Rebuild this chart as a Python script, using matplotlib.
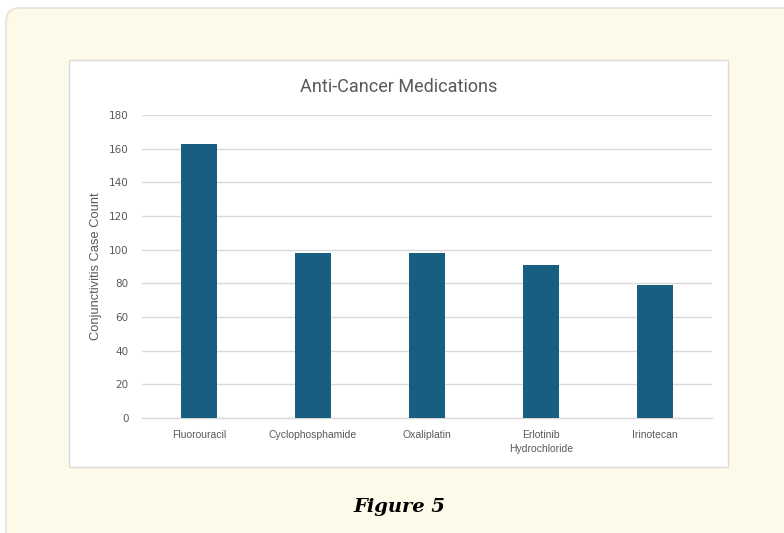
import matplotlib.pyplot as plt
from matplotlib.patches import FancyBboxPatch, Rectangle
from matplotlib.transforms import IdentityTransform

# case counts per drug
drugs = ['Fluorouracil', 'Cyclophosphamide', 'Oxaliplatin',
         'Erlotinib\nHydrochloride', 'Irinotecan']
cases = [163, 98, 98, 91, 79]
yticks = [0, 20, 40, 60, 80, 100, 120, 140, 160, 180]

W, H = 784, 533
fig = plt.figure(figsize=(W / 100, H / 100), dpi=100)
fig.patch.set_facecolor('white')

# cream card behind everything (pixel coords, origin bottom-left)
card = FancyBboxPatch((6, -20), 820, H - 8 + 20,
                      boxstyle='round,pad=0,rounding_size=14',
                      transform=IdentityTransform(), facecolor='#fefae9',
                      edgecolor='#e9e6dc', lw=1.5, zorder=0)
fig.patches.append(card)

# white chart panel
panel = Rectangle((69, H - 467), 728 - 69, 467 - 60,
                  transform=IdentityTransform(), facecolor='white',
                  edgecolor='#d9d9d9', lw=1, zorder=1)
fig.patches.append(panel)

ax = fig.add_axes([142 / W, 115 / H, 570 / W, 303 / H])
ax.set_zorder(5)
ax.set_facecolor('none')
ax.bar(range(len(drugs)), cases, width=0.315, color='#185e80', zorder=3)

ax.set_xlim(-0.5, len(drugs) - 0.5)
ax.set_ylim(0, 180)
ax.set_yticks(yticks)
ax.set_xticks(range(len(drugs)))
ax.set_xticklabels(drugs, fontsize=7.5, color='#595959', family='Liberation Sans',
                   linespacing=1.5)
ax.tick_params(axis='y', labelsize=7.5, labelcolor='#595959', length=0, pad=9.5)
ax.tick_params(axis='x', length=0, pad=9)
ax.grid(axis='y', color='#d9d9d9', lw=1, zorder=0)
ax.axhline(0, color='#d9d9d9', lw=1, zorder=2, clip_on=False)
for s in ax.spines.values():
    s.set_visible(False)

ax.set_ylabel('Conjunctivitis Case Count', fontsize=9.3, color='#595959',
              family='Liberation Sans', labelpad=5)

fig.text(399 / W, 1 - 87 / H, 'Anti-Cancer Medications', ha='center', va='center',
         fontsize=13, color='#595959', family='Roboto', zorder=6)

fig.text(399 / W, 1 - 507 / H, 'Figure 5', ha='center', va='center',
         fontsize=14, fontweight='bold', fontstyle='italic',
         family='DejaVu Serif', color='black', zorder=6)

fig.savefig('out.png', dpi=100)
